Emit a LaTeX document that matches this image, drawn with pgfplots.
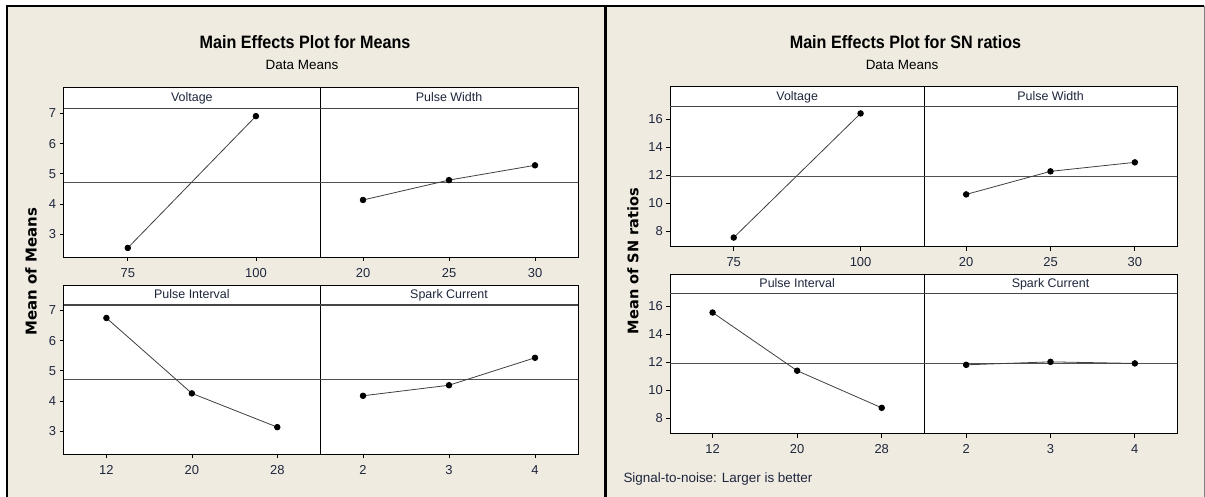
\documentclass[border=0pt]{standalone}
\usepackage{fontspec}
\setmainfont{Liberation Sans}
\newfontfamily\titlefont{Liberation Sans}[FakeStretch=0.9]
\newfontfamily\ylabfont{DejaVu Sans}
\usepackage{pgfplots}
\pgfplotsset{compat=1.18}
\definecolor{bgbeige}{RGB}{239,235,225}
\definecolor{ticktext}{RGB}{30,38,60}
\definecolor{refgray}{RGB}{80,80,80}
\definecolor{hdrgray}{RGB}{70,70,70}

\pgfplotsset{
 mepanel/.style={
   scale only axis,
   anchor=south west,
   axis background/.style={fill=white},
   axis line style={black,line width=0.9bp},
   xmin=0.5,
   tick align=outside,
   major tick length=4bp,
   tick style={black,line width=0.7bp},
   xtick pos=bottom, ytick pos=left,
   ticklabel style={font=\fontsize{13}{15}\selectfont, text=ticktext},
   /pgf/number format/assume math mode=true,
   xticklabel style={yshift=-3.5bp},
 },
 leftrange/.style={ymin=2.23, ymax=7.17, ytick={3,4,5,6,7}},
 rightrange/.style={ymin=6.92, ymax=16.88, ytick={8,10,12,14,16}},
 noy/.style={ytick=\empty},
 two/.style={xmax=2.5, xtick={1,2}},
 three/.style={xmax=3.5, xtick={1,2,3}},
 meanline/.style={refgray,line width=1.2bp, no marks, forget plot},
 dataline/.style={black!75,line width=0.8bp, mark=*, mark size=2.8bp, mark options={fill=black,draw=black,solid}},
}

\begin{document}
\begin{tikzpicture}
\useasboundingbox (0,0) rectangle (1205bp,497bp);
\fill[white] (0,0) rectangle (1205bp,497bp);
\fill[bgbeige] (7bp,0) rectangle (1204bp,491bp);
\draw[black,line width=1.5bp] (7bp,0) -- (7bp,491bp) -- (1204bp,491bp);
\draw[black,line width=2.2bp] (605.5bp,0) -- (605.5bp,491bp);
\draw[gray,line width=1bp] (1204bp,0) -- (1204bp,491bp);

% ---------------- Left: Means ----------------
\node[anchor=base, font=\titlefont\bfseries\fontsize{18}{20}\selectfont] at (305bp,448.7bp) {Main Effects Plot for Means};
\node[anchor=base, font=\fontsize{13.5}{15}\selectfont] at (302bp,427.7bp) {Data Means};
\node[rotate=90, font=\ylabfont\bfseries\fontsize{15}{17}\selectfont] at (31bp,225.5bp) {Mean of Means};

\begin{axis}[mepanel, leftrange, two, at={(63.7bp,239.7bp)}, width=256.3bp, height=149bp, xticklabels={75,100}]
\addplot[meanline] coordinates {(0.5,4.72) (2.5,4.72)};
\addplot[dataline] coordinates {(1,2.54) (2,6.91)};
\end{axis}
\begin{axis}[mepanel, leftrange, noy, three, at={(320bp,239.7bp)}, width=258bp, height=149bp, xticklabels={20,25,30}]
\addplot[meanline] coordinates {(0.5,4.72) (3.5,4.72)};
\addplot[dataline] coordinates {(1,4.13) (2,4.79) (3,5.28)};
\end{axis}
\begin{axis}[mepanel, leftrange, three, at={(63.7bp,42.7bp)}, width=256.3bp, height=149bp, xticklabels={12,20,28}]
\addplot[meanline] coordinates {(0.5,4.72) (3.5,4.72)};
\addplot[dataline] coordinates {(1,6.75) (2,4.25) (3,3.13)};
\end{axis}
\begin{axis}[mepanel, leftrange, noy, three, at={(320bp,42.7bp)}, width=258bp, height=149bp, xticklabels={2,3,4}]
\addplot[meanline] coordinates {(0.5,4.72) (3.5,4.72)};
\addplot[dataline] coordinates {(1,4.17) (2,4.52) (3,5.43)};
\end{axis}

% headers left
\draw[black,line width=0.9bp,fill=white] (63.7bp,388.7bp) rectangle (578bp,409.7bp);
\draw[black,line width=0.9bp] (320bp,388.7bp) -- (320bp,409.7bp);
\draw[hdrgray,line width=1.5bp] (63.7bp,388.7bp) -- (578bp,388.7bp);
\node[anchor=base, font=\fontsize{12.5}{14}\selectfont, text=ticktext] at (191.9bp,395.3bp) {Voltage};
\node[anchor=base, font=\fontsize{12.5}{14}\selectfont, text=ticktext] at (449bp,395.3bp) {Pulse Width};

\draw[black,line width=0.9bp,fill=white] (63.7bp,192bp) rectangle (578bp,211.3bp);
\draw[black,line width=0.9bp] (320bp,192bp) -- (320bp,211.3bp);
\draw[hdrgray,line width=1.5bp] (63.7bp,192bp) -- (578bp,192bp);
\node[anchor=base, font=\fontsize{12.5}{14}\selectfont, text=ticktext] at (191.9bp,198bp) {Pulse Interval};
\node[anchor=base, font=\fontsize{12.5}{14}\selectfont, text=ticktext] at (449bp,198bp) {Spark Current};

% ---------------- Right: SN ratios ----------------
\node[anchor=base, font=\titlefont\bfseries\fontsize{18}{20}\selectfont] at (905.5bp,448.7bp) {Main Effects Plot for SN ratios};
\node[anchor=base, font=\fontsize{13.5}{15}\selectfont] at (902bp,427.7bp) {Data Means};
\node[rotate=90, font=\ylabfont\bfseries\fontsize{14.6}{17}\selectfont] at (633bp,236bp) {Mean of SN ratios};

\begin{axis}[mepanel, rightrange, two, at={(670.3bp,250.3bp)}, width=253.7bp, height=140bp, xticklabels={75,100}]
\addplot[meanline] coordinates {(0.5,11.92) (2.5,11.92)};
\addplot[dataline] coordinates {(1,7.57) (2,16.40)};
\end{axis}
\begin{axis}[mepanel, rightrange, noy, three, at={(924bp,250.3bp)}, width=253bp, height=140bp, xticklabels={20,25,30}]
\addplot[meanline] coordinates {(0.5,11.92) (3.5,11.92)};
\addplot[dataline] coordinates {(1,10.64) (2,12.28) (3,12.92)};
\end{axis}
\begin{axis}[mepanel, rightrange, three, at={(670.3bp,63.3bp)}, width=253.7bp, height=140bp, xticklabels={12,20,28}]
\addplot[meanline] coordinates {(0.5,11.92) (3.5,11.92)};
\addplot[dataline] coordinates {(1,15.54) (2,11.40) (3,8.76)};
\end{axis}
\begin{axis}[mepanel, rightrange, noy, three, at={(924bp,63.3bp)}, width=253bp, height=140bp, xticklabels={2,3,4}]
\addplot[meanline] coordinates {(0.5,11.92) (3.5,11.92)};
\addplot[dataline] coordinates {(1,11.82) (2,12.03) (3,11.92)};
\end{axis}

% headers right
\draw[black,line width=0.9bp,fill=white] (670.3bp,390.3bp) rectangle (1177bp,411bp);
\draw[black,line width=0.9bp] (924bp,390.3bp) -- (924bp,411bp);
\draw[hdrgray,line width=1.5bp] (670.3bp,390.3bp) -- (1177bp,390.3bp);
\node[anchor=base, font=\fontsize{12.5}{14}\selectfont, text=ticktext] at (797.2bp,396.6bp) {Voltage};
\node[anchor=base, font=\fontsize{12.5}{14}\selectfont, text=ticktext] at (1050.5bp,396.6bp) {Pulse Width};

\draw[black,line width=0.9bp,fill=white] (670.3bp,203.3bp) rectangle (1177bp,222.7bp);
\draw[black,line width=0.9bp] (924bp,203.3bp) -- (924bp,222.7bp);
\draw[hdrgray,line width=1.5bp] (670.3bp,203.3bp) -- (1177bp,203.3bp);
\node[anchor=base, font=\fontsize{12.5}{14}\selectfont, text=ticktext] at (797.2bp,209.5bp) {Pulse Interval};
\node[anchor=base, font=\fontsize{12.5}{14}\selectfont, text=ticktext] at (1050.5bp,209.5bp) {Spark Current};

\node[anchor=base west, font=\fontsize{13.5}{15}\selectfont, text=ticktext] at (620bp,15bp) {Signal-to-noise: Larger is better};
\end{tikzpicture}
\end{document}
